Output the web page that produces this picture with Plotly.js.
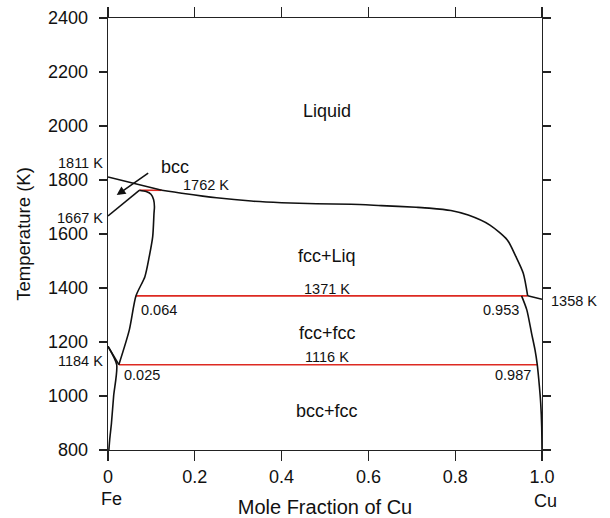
<!DOCTYPE html>
<html>
<head>
<meta charset="utf-8">
<script src="https://cdn.plot.ly/plotly-3.0.1.min.js"></script>
<style>html,body{margin:0;padding:0;background:#fff;}#chart{width:610px;height:518px;}</style>
</head>
<body>
<div id="chart"></div>
<script>
// Liquidus (Fe side straight to peritectic, then long liquidus to Cu)
const liqFeX = [0, 0.124];
const liqFeT = [1811, 1762];
const liqX = [0.124, 0.17, 0.25, 0.33, 0.40, 0.48, 0.56, 0.63, 0.71, 0.74, 0.79, 0.83, 0.88, 0.92, 0.94, 0.957, 0.967];
const liqT = [1762, 1751, 1734, 1722, 1716, 1712, 1710, 1705, 1699, 1696, 1687, 1670, 1633, 1578, 1516, 1454, 1371];
const liqCuX = [0.967, 1.0];
const liqCuT = [1371, 1358];
// bcc (delta) / fcc boundary from 1667 K
const deltaX = [0, 0.072];
const deltaT = [1667, 1762];
// fcc (Fe) boundary
const fccFeX = [0.072, 0.088, 0.099, 0.105, 0.107, 0.106, 0.103, 0.095, 0.085, 0.0645, 0.049, 0.025];
const fccFeT = [1762, 1757, 1747, 1728, 1701, 1677, 1590, 1516, 1442, 1371, 1244, 1116];
// alpha / gamma wedge from 1184 K
const gamma1184X = [0, 0.025];
const gamma1184T = [1184, 1116];
const alphaX = [0, 0.020, 0.013, 0.008, 0.004, 0.002];
const alphaT = [1184, 1116, 1000, 900, 840, 800];
// fcc (Cu) solvus
const fccCuX = [0.953, 0.965, 0.976, 0.984, 0.989, 0.994, 0.997, 0.9993, 1.0];
const fccCuT = [1371, 1319, 1232, 1170, 1117, 1035, 973, 886, 800];
// invariant lines
const inv1762X = [0.072, 0.124], inv1762T = [1762, 1762];
const inv1371X = [0.0645, 0.967], inv1371T = [1371, 1371];
const inv1116X = [0.025, 0.989], inv1116T = [1116, 1116];

const xTicks = [0, 0.2, 0.4, 0.6, 0.8, 1.0];
const xTickText = ["0", "0.2", "0.4", "0.6", "0.8", "1.0"];
const yTicks = [800, 1000, 1200, 1400, 1600, 1800, 2000, 2200, 2400];

const black = '#111111', red = '#dd2a22';
function line(x, y, color, shape) {
  return {x: x, y: y, type: 'scatter', mode: 'lines', hoverinfo: 'skip',
    line: {color: color, width: 1.6, shape: shape || 'linear', smoothing: 0.7}, showlegend: false};
}
const traces = [
  line(inv1762X, inv1762T, red),
  line(inv1371X, inv1371T, red),
  line(inv1116X, inv1116T, red),
  line(liqFeX, liqFeT, black),
  line(liqX, liqT, black, 'spline'),
  line(liqCuX, liqCuT, black),
  line(deltaX, deltaT, black),
  line(fccFeX, fccFeT, black, 'spline'),
  line(gamma1184X, gamma1184T, black),
  line(alphaX, alphaT, black, 'spline'),
  line(fccCuX, fccCuT, black, 'spline')
];

const F = 'Liberation Sans, Arial, Helvetica, sans-serif';
function txt(x, y, t, size, opts) {
  return Object.assign({x: x, y: y, text: t, showarrow: false, font: {family: F, size: size, color: '#111'}}, opts || {});
}
const annotations = [
  txt(0.505, 2054, 'Liquid', 18),
  txt(0.505, 1518, 'fcc+Liq', 18),
  txt(0.505, 1396, '1371 K', 14.5),
  txt(0.505, 1233, 'fcc+fcc', 18),
  txt(0.505, 1145, '1116 K', 14.5),
  txt(0.505, 944, 'bcc+fcc', 18),
  txt(0.154, 1849, 'bcc', 18),
  txt(0.226, 1780, '1762 K', 14.5),
  txt(0.117, 1318, '0.064', 14.5),
  txt(0.905, 1318, '0.953', 14.5),
  txt(0.078, 1078, '0.025', 14.5),
  txt(0.934, 1078, '0.987', 14.5),
  txt(-0.007, 1864, '1811 K', 14.5, {xref: 'paper', xanchor: 'right'}),
  txt(-0.007, 1659, '1667 K', 14.5, {xref: 'paper', xanchor: 'right'}),
  txt(-0.007, 1131, '1184 K', 14.5, {xref: 'paper', xanchor: 'right'}),
  txt(1.017, 1351, '1358 K', 14.5, {xref: 'paper', xanchor: 'left'}),
  txt(0.008, -0.113, 'Fe', 18, {xref: 'paper', yref: 'paper', xanchor: 'center', yanchor: 'middle'}),
  txt(1.009, -0.117, 'Cu', 18, {xref: 'paper', yref: 'paper', xanchor: 'center', yanchor: 'middle'}),
  {x: 0.02, y: 1744, ax: 33, ay: -23, text: '', showarrow: true, arrowhead: 2, arrowsize: 1.1, arrowwidth: 1.6, arrowcolor: black}
];

const axisCommon = {showline: true, linecolor: '#222', linewidth: 1.3, mirror: 'ticks', ticks: 'outside',
  tickcolor: '#222', tickwidth: 1.3, showgrid: false, zeroline: false,
  tickfont: {family: F, size: 18, color: '#111'}};

const layout = {
  width: 610, height: 518,
  margin: {l: 108, r: 68, t: 18, b: 68},
  paper_bgcolor: '#fff', plot_bgcolor: '#fff',
  xaxis: Object.assign({}, axisCommon, {range: [0, 1], tickvals: xTicks, ticktext: xTickText, ticklen: 10,
    title: {text: 'Mole Fraction of Cu', font: {family: F, size: 20, color: '#111'}, standoff: 14}}),
  yaxis: Object.assign({}, axisCommon, {range: [800, 2400], tickvals: yTicks, ticklen: 8, ticklabelstandoff: 7,
    title: {text: 'Temperature (K)', font: {family: F, size: 18.5, color: '#111'}, standoff: 12}}),
  annotations: annotations
};
Plotly.newPlot('chart', traces, layout, {staticPlot: true, displayModeBar: false});
</script>
</body>
</html>
